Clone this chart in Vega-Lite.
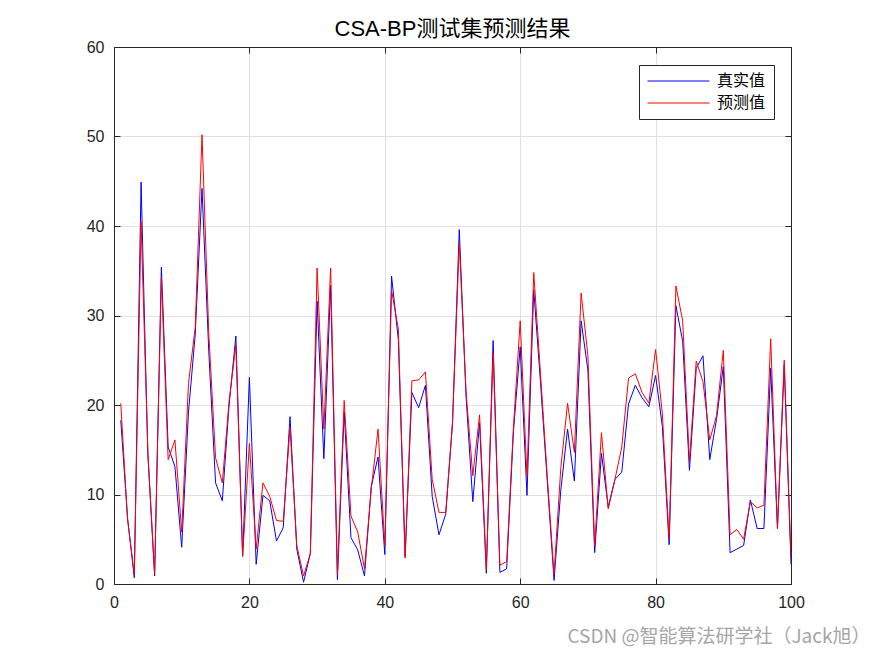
{
  "$schema": "https://vega.github.io/schema/vega-lite/v6.json",
  "width": 677,
  "height": 537,
  "autosize": "none",
  "padding": {"left": 114, "top": 47, "right": 84, "bottom": 72},
  "background": "white",
  "config": {"view": {"stroke": null}, "font": "Liberation Sans"},
  "title": {"text": "CSA-BP测试集预测结果", "fontSize": 22, "fontWeight": "normal", "font": "Liberation Sans, Noto Sans CJK SC", "color": "#000000", "baseline": "alphabetic", "offset": -19},
  "data": {"values": [
    {"x":1,"真实值":18.3,"预测值":20.2},{"x":2,"真实值":7.4,"预测值":7.2},{"x":3,"真实值":0.7,"预测值":1.1},{"x":4,"真实值":44.9,"预测值":40.5},{"x":5,"真实值":14.5,"预测值":14.8},
    {"x":6,"真实值":0.9,"预测值":1.1},{"x":7,"真实值":35.4,"预测值":34.2},{"x":8,"真实值":15.3,"预测值":13.9},{"x":9,"真实值":13.1,"预测值":16.1},{"x":10,"真实值":4.1,"预测值":5.8},
    {"x":11,"真实值":19.2,"预测值":22.4},{"x":12,"真实值":27.9,"预测值":28.7},{"x":13,"真实值":44.2,"预测值":50.2},{"x":14,"真实值":26.0,"预测值":28.0},{"x":15,"真实值":11.3,"预测值":14.1},
    {"x":16,"真实值":9.3,"预测值":11.3},{"x":17,"真实值":20.0,"预测值":20.4},{"x":18,"真实值":27.7,"预测值":26.7},{"x":19,"真实值":3.1,"预测值":3.1},{"x":20,"真实值":23.1,"预测值":15.7},
    {"x":21,"真实值":2.2,"预测值":3.9},{"x":22,"真实值":9.9,"预测值":11.3},{"x":23,"真实值":9.3,"预测值":9.8},{"x":24,"真实值":4.8,"预测值":7.1},{"x":25,"真实值":6.3,"预测值":7.0},
    {"x":26,"真实值":18.7,"预测值":17.5},{"x":27,"真实值":3.9,"预测值":4.3},{"x":28,"真实值":0.2,"预测值":0.9},{"x":29,"真实值":3.4,"预测值":3.4},{"x":30,"真实值":31.6,"预测值":35.3},
    {"x":31,"真实值":14.0,"预测值":17.3},{"x":32,"真实值":33.4,"预测值":35.3},{"x":33,"真实值":0.5,"预测值":1.1},{"x":34,"真实值":19.2,"预测值":20.5},{"x":35,"真实值":5.2,"预测值":7.6},
    {"x":36,"真实值":3.8,"预测值":5.8},{"x":37,"真实值":0.9,"预测值":1.7},{"x":38,"真实值":10.9,"预测值":10.6},{"x":39,"真实值":14.2,"预测值":17.3},{"x":40,"真实值":3.3,"预测值":4.3},
    {"x":41,"真实值":34.4,"预测值":32.8},{"x":42,"真实值":27.3,"预测值":28.5},{"x":43,"真实值":3.1,"预测值":2.9},{"x":44,"真实值":21.4,"预测值":22.7},{"x":45,"真实值":19.7,"预测值":22.8},
    {"x":46,"真实值":22.2,"预测值":23.7},{"x":47,"真实值":9.8,"预测值":11.7},{"x":48,"真实值":5.5,"预测值":8.0},{"x":49,"真实值":7.8,"预测值":8.0},{"x":50,"真实值":18.0,"预测值":18.0},
    {"x":51,"真实值":39.6,"预测值":38.1},{"x":52,"真实值":21.0,"预测值":21.5},{"x":53,"真实值":9.2,"预测值":12.1},{"x":54,"真实值":18.0,"预测值":18.9},{"x":55,"真实值":1.2,"预测值":1.7},
    {"x":56,"真实值":27.2,"预测值":25.8},{"x":57,"真实值":1.3,"预测值":2.1},{"x":58,"真实值":1.7,"预测值":2.5},{"x":59,"真实值":17.0,"预测值":17.5},{"x":60,"真实值":26.5,"预测值":29.4},
    {"x":61,"真实值":9.9,"预测值":12.0},{"x":62,"真实值":32.9,"预测值":34.8},{"x":63,"真实值":22.5,"预测值":23.5},{"x":64,"真实值":11.5,"预测值":12.0},{"x":65,"真实值":0.4,"预测值":1.1},
    {"x":66,"真实值":10.5,"预测值":13.0},{"x":67,"真实值":17.3,"预测值":20.2},{"x":68,"真实值":11.5,"预测值":14.7},{"x":69,"真实值":29.4,"预测值":32.5},{"x":70,"真实值":23.9,"预测值":25.5},
    {"x":71,"真实值":3.5,"预测值":4.3},{"x":72,"真实值":14.6,"预测值":16.9},{"x":73,"真实值":8.6,"预测值":8.4},{"x":74,"真实值":11.7,"预测值":11.7},{"x":75,"真实值":12.5,"预测值":15.3},
    {"x":76,"真实值":20.1,"预测值":23.0},{"x":77,"真实值":22.2,"预测值":23.5},{"x":78,"真实值":20.8,"预测值":21.4},{"x":79,"真实值":19.8,"预测值":20.2},{"x":80,"真实值":23.3,"预测值":26.2},
    {"x":81,"真实值":17.6,"预测值":19.0},{"x":82,"真实值":4.4,"预测值":5.0},{"x":83,"真实值":31.1,"预测值":33.3},{"x":84,"真实值":27.1,"预测值":29.4},{"x":85,"真实值":12.7,"预测值":13.7},
    {"x":86,"真实值":24.1,"预测值":24.9},{"x":87,"真实值":25.5,"预测值":22.6},{"x":88,"真实值":13.9,"预测值":16.1},{"x":89,"真实值":18.4,"预测值":18.8},{"x":90,"真实值":24.3,"预测值":26.1},
    {"x":91,"真实值":3.5,"预测值":5.5},{"x":92,"真实值":3.9,"预测值":6.1},{"x":93,"真实值":4.3,"预测值":5.0},{"x":94,"真实值":9.4,"预测值":9.2},{"x":95,"真实值":6.2,"预测值":8.5},
    {"x":96,"真实值":6.2,"预测值":8.8},{"x":97,"真实值":24.1,"预测值":27.4},{"x":98,"真实值":6.2,"预测值":6.2},{"x":99,"真实值":24.5,"预测值":25.0},{"x":100,"真实值":2.2,"预测值":3.0}
  ]},
  "transform": [{"fold": ["真实值", "预测值"], "as": ["series", "value"]}],
  "layer": [
    {
      "mark": {"type": "line", "strokeWidth": 1, "clip": true},
      "encoding": {
        "x": {"field": "x", "type": "quantitative", "scale": {"domain": [0, 100], "nice": false, "zero": false},
          "axis": {"orient": "bottom", "values": [0, 20, 40, 60, 80, 100], "grid": true, "gridColor": "#e0e0e0", "gridWidth": 1,
            "domainColor": "#262626", "domainWidth": 1, "tickColor": "#262626", "tickSize": -6, "tickWidth": 1,
            "labelFontSize": 16, "labelColor": "#262626", "labelPadding": 16, "labelFont": "Liberation Sans", "labelFlush": false,
            "title": "CSDN @智能算法研学社（Jack旭）", "titleFont": "Noto Sans CJK SC", "titleFontSize": 19, "titleFontWeight": "normal",
            "titleColor": "#a6a6a6", "titleX": 756, "titleY": 52, "titleAlign": "right", "titleBaseline": "middle", "titleAnchor": null}},
        "y": {"field": "value", "type": "quantitative", "scale": {"domain": [0, 60], "nice": false},
          "axis": {"orient": "left", "values": [0, 10, 20, 30, 40, 50, 60], "grid": true, "gridColor": "#e0e0e0", "gridWidth": 1,
            "domainColor": "#262626", "domainWidth": 1, "tickColor": "#262626", "tickSize": -6, "tickWidth": 1,
            "labelFontSize": 16, "labelColor": "#262626", "labelPadding": 16, "labelFont": "Liberation Sans", "labelFlush": false, "title": null}},
        "color": {"field": "series", "type": "nominal",
          "scale": {"domain": ["真实值", "预测值"], "range": ["#0000ff", "#ff0000"]},
          "legend": {"title": null, "orient": "none", "legendX": 525, "legendY": 18, "symbolType": "stroke", "symbolSize": 3844,
            "symbolStrokeWidth": 1, "labelFont": "Noto Sans CJK SC", "labelFontSize": 16, "labelColor": "#000000", "labelOffset": 7,
            "clipHeight": 16, "strokeColor": "#262626", "fillColor": "#ffffff", "padding": 8, "rowPadding": 6}}
      }
    },
    {
      "mark": {"type": "point", "opacity": 0},
      "encoding": {
        "x": {"field": "x", "type": "quantitative",
          "axis": {"orient": "top", "values": [0, 20, 40, 60, 80, 100], "grid": false, "labels": false, "title": null,
            "domainColor": "#262626", "domainWidth": 1, "tickColor": "#262626", "tickSize": -6, "tickWidth": 1}},
        "y": {"field": "value", "type": "quantitative",
          "axis": {"orient": "right", "values": [0, 10, 20, 30, 40, 50, 60], "grid": false, "labels": false, "title": null,
            "domainColor": "#262626", "domainWidth": 1, "tickColor": "#262626", "tickSize": -6, "tickWidth": 1}}
      }
    }
  ],
  "resolve": {"axis": {"x": "independent", "y": "independent"}}
}
